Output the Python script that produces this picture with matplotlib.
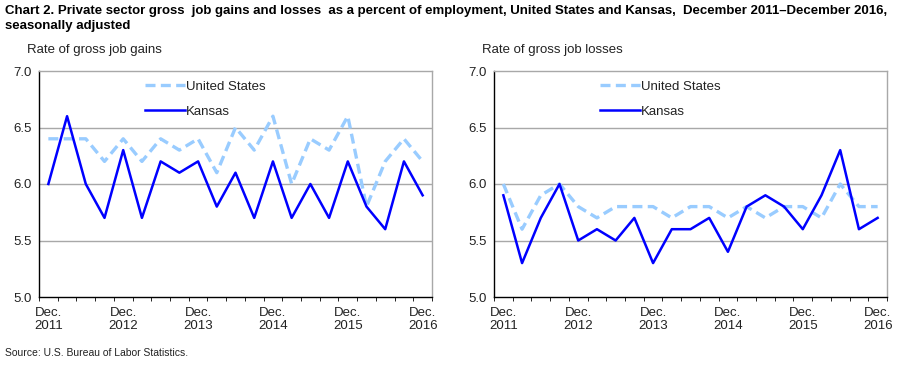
import numpy as np
import matplotlib
matplotlib.use("Agg")
from matplotlib import pyplot as plt

plt.rcParams['font.family'] = ['Liberation Sans', 'DejaVu Sans']

quarters = np.arange(21)
tick_pos = [0, 4, 8, 12, 16, 20]
tick_labels = ["Dec.\n2011", "Dec.\n2012", "Dec.\n2013", "Dec.\n2014", "Dec.\n2015", "Dec.\n2016"]

us_gains = [6.4, 6.4, 6.4, 6.2, 6.4, 6.2, 6.4, 6.3, 6.4, 6.1, 6.5,
            6.3, 6.6, 6.0, 6.4, 6.3, 6.6, 5.8, 6.2, 6.4, 6.2]
ks_gains = [6.0, 6.6, 6.0, 5.7, 6.3, 5.7, 6.2, 6.1, 6.2, 5.8, 6.1,
            5.7, 6.2, 5.7, 6.0, 5.7, 6.2, 5.8, 5.6, 6.2, 5.9]
us_losses = [6.0, 5.6, 5.9, 6.0, 5.8, 5.7, 5.8, 5.8, 5.8, 5.7, 5.8,
             5.8, 5.7, 5.8, 5.7, 5.8, 5.8, 5.7, 6.0, 5.8, 5.8]
ks_losses = [5.9, 5.3, 5.7, 6.0, 5.5, 5.6, 5.5, 5.7, 5.3, 5.6, 5.6,
             5.7, 5.4, 5.8, 5.9, 5.8, 5.6, 5.9, 6.3, 5.6, 5.7]

US_COLOR = "#99CCFF"
KS_COLOR = "#0000FF"
GRID = "#A8A8A8"
TXT = "#222222"

fig = plt.figure(figsize=(9.13, 3.65), dpi=100)
W, H = 913.0, 365.0


def make_axes(left, right, top, bottom):
    return fig.add_axes([left / W, 1 - bottom / H, (right - left) / W, (bottom - top) / H])


ax1 = make_axes(39, 432, 71, 297)
ax2 = make_axes(494, 887, 71, 297)

for ax, us, ks, sub in [(ax1, us_gains, ks_gains, "Rate of gross job gains"),
                        (ax2, us_losses, ks_losses, "Rate of gross job losses")]:
    ax.plot(quarters, us, color=US_COLOR, lw=2.4, dashes=(3, 1.6), label="United States")
    ax.plot(quarters, ks, color=KS_COLOR, lw=1.8, label="Kansas")
    ax.set_xlim(-0.5, 20.5)
    ax.set_ylim(5.0, 7.0)
    ax.set_yticks([5.0, 5.5, 6.0, 6.5, 7.0])
    ax.set_yticklabels(["5.0", "5.5", "6.0", "6.5", "7.0"])
    for v in [5.5, 6.0, 6.5]:
        ax.axhline(v, color=GRID, lw=1, zorder=0)
    ax.set_xticks(tick_pos)
    ax.set_xticklabels(tick_labels, linespacing=1.1)
    ax.set_xticks(np.arange(-0.5, 21, 1), minor=True)
    ax.tick_params(axis='x', which='major', length=0, pad=7, labelsize=9.5, labelcolor=TXT)
    ax.tick_params(axis='x', which='minor', length=3, direction='out', color='black')
    ax.tick_params(axis='y', length=0, pad=5, labelsize=9.5, labelcolor=TXT)
    ax.spines['left'].set_color('black')
    ax.spines['bottom'].set_color('black')
    ax.spines['top'].set_color(GRID)
    ax.spines['right'].set_color(GRID)
    for s in ax.spines.values():
        s.set_linewidth(1)
    ax.legend(loc='upper left', bbox_to_anchor=(0.24, 1.01), frameon=False,
              fontsize=9.5, handlelength=3.0, handletextpad=0.1, labelspacing=0.95,
              labelcolor=TXT)
    pos = ax.get_position()
    fig.text(pos.x0 - 12 / W, 1 - 50 / H, sub, fontsize=9.5, color=TXT, va='center')

fig.text(5 / W, 1 - 5 / H,
         "Chart 2. Private sector gross  job gains and losses  as a percent of employment, "
         "United States and Kansas,  December 2011\u2013December 2016,\nseasonally adjusted",
         fontsize=9.5, fontweight='bold', va='top', linespacing=1.3)
fig.text(5 / W, 1 - 353 / H, "Source: U.S. Bureau of Labor Statistics.", fontsize=7.5,
         va='center', color=TXT)

fig.savefig("out.png", dpi=100)
